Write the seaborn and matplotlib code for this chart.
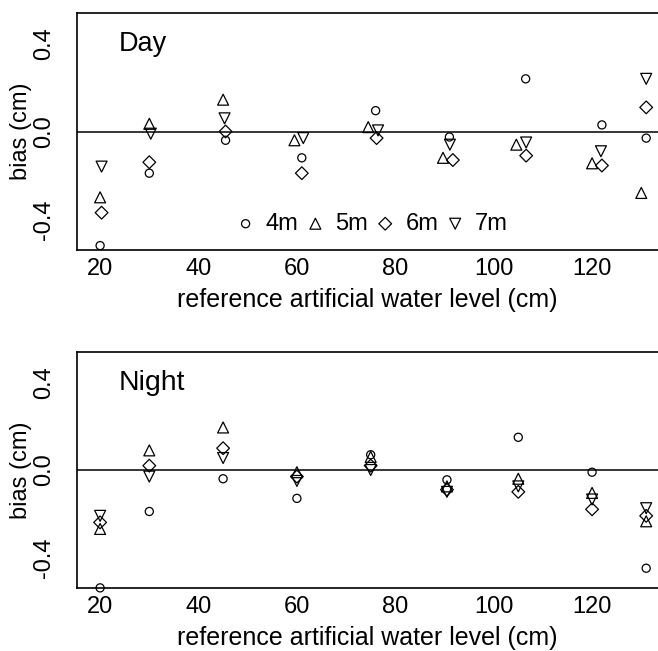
import matplotlib
matplotlib.use("Agg")
import matplotlib.pyplot as plt
import seaborn as sns
import pandas as pd

sns.set_theme(style="white")
plt.rcParams['font.family'] = ['Liberation Sans', 'DejaVu Sans']

# sensor depths (series)
series = ['4m', '5m', '6m', '7m']
markers = {'4m': 'o', '5m': '^', '6m': 'D', '7m': 'v'}
msize = {'4m': 34, '5m': 62, '6m': 42, '7m': 62}

# Day: reference water level (cm) and bias (cm) per sensor
day_x = {
    '4m': [20, 30, 45.5, 61, 76, 91, 106.5, 122, 131],
    '5m': [20, 30, 45, 59.5, 74.5, 89.7, 104.6, 120, 130],
    '6m': [20.3, 30, 45.5, 61, 76.2, 91.7, 106.6, 122, 131],
    '7m': [20.3, 30.3, 45.3, 61.3, 76.5, 91.1, 106.6, 121.8, 131],
}
day_bias = {
    '4m': [-0.52, -0.19, -0.04, -0.12, 0.095, -0.025, 0.24, 0.03, -0.03],
    '5m': [-0.30, 0.035, 0.145, -0.04, 0.02, -0.12, -0.06, -0.145, -0.28],
    '6m': [-0.37, -0.14, 0.0, -0.19, -0.03, -0.13, -0.11, -0.155, 0.11],
    '7m': [-0.16, -0.01, 0.06, -0.03, 0.005, -0.06, -0.05, -0.09, 0.24],
}

# Night
night_x = {
    '4m': [20, 30, 45, 60, 75, 90.5, 105, 120, 131],
    '5m': [20, 30, 45, 60, 75, 90.5, 105, 120, 131],
    '6m': [20, 30, 45, 60, 75, 90.5, 105, 120, 131],
    '7m': [20, 30, 45, 60, 75, 90.5, 105, 120, 131],
}
night_bias = {
    '4m': [-0.54, -0.19, -0.04, -0.13, 0.07, -0.045, 0.15, -0.01, -0.45],
    '5m': [-0.27, 0.09, 0.195, -0.01, 0.06, -0.075, -0.04, -0.105, -0.235],
    '6m': [-0.24, 0.02, 0.10, -0.03, 0.02, -0.09, -0.10, -0.18, -0.21],
    '7m': [-0.21, -0.03, 0.055, -0.05, 0.0, -0.10, -0.075, -0.135, -0.175],
}

xticks = [20, 40, 60, 80, 100, 120]
yticks = [-0.4, -0.2, 0.0, 0.2, 0.4]
yticklabels = ['-0.4', '', '0.0', '', '0.4']

fig = plt.figure(figsize=(6.58, 6.51), dpi=100)
ax1 = fig.add_axes([0.117, 0.616, 0.883, 0.364])
ax2 = fig.add_axes([0.117, 0.097, 0.883, 0.362])


def draw(ax, xs, ys, title, title_size, legend=False):
    for s in series:
        df = pd.DataFrame({'level': xs[s], 'bias': ys[s]})
        sns.scatterplot(data=df, x='level', y='bias', ax=ax, marker=markers[s],
                        s=msize[s], facecolor='none', edgecolor='black',
                        linewidth=0.9, label=s, clip_on=False, zorder=3)
    ax.axhline(0, color='black', lw=1.1, zorder=2)
    ax.set_xlim(15.3, 133.4)
    ax.set_ylim(-0.54, 0.54)
    ax.set_xticks(xticks)
    ax.set_yticks(yticks)
    ax.set_yticklabels(yticklabels, rotation=90, va='center')
    ax.tick_params(axis='both', labelsize=17, length=4, width=1,
                   color='black', labelcolor='black')
    ax.tick_params(axis='x', direction='in', pad=6)
    ax.tick_params(axis='y', direction='out', pad=12)
    for side in ['left', 'top', 'bottom']:
        ax.spines[side].set_color('black')
        ax.spines[side].set_linewidth(1.2)
    ax.spines['right'].set_visible(False)
    ax.set_xlabel('reference artificial water level (cm)', fontsize=18, color='black')
    ax.set_ylabel('bias (cm)', fontsize=17, color='black')
    ax.xaxis.set_label_coords(0.5, -0.16)
    ax.yaxis.set_label_coords(-0.077, 0.5)
    ax.text(23.7, 0.4, title, fontsize=title_size, ha='left', va='center', color='black')
    if legend:
        ax.legend(loc='center', bbox_to_anchor=(0.51, 0.11), ncol=4, frameon=False,
                  fontsize=17, handletextpad=0.55, columnspacing=0.42,
                  handlelength=0.6, borderpad=0, labelcolor='black')
    else:
        ax.get_legend().remove()


draw(ax1, day_x, day_bias, 'Day', 19.5, legend=True)
draw(ax2, night_x, night_bias, 'Night', 20.5)

fig.savefig('out.png', dpi=100)
